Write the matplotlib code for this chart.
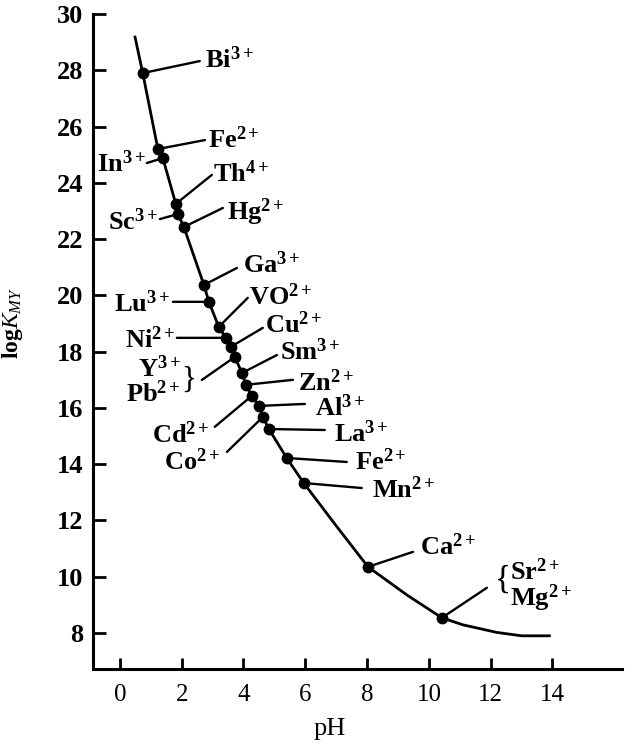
import matplotlib
matplotlib.use("Agg")
import matplotlib.pyplot as plt

plt.rcParams['font.family'] = ['Liberation Serif', 'DejaVu Serif']
plt.rcParams['mathtext.fontset'] = 'custom'
plt.rcParams['mathtext.rm'] = 'Liberation Serif:bold'
plt.rcParams['mathtext.bf'] = 'Liberation Serif:bold'
plt.rcParams['mathtext.it'] = 'Liberation Serif:italic'

# ---- data ----
ions = ['Bi$^{3+}$', 'Fe$^{2+}$', 'In$^{3+}$', 'Th$^{4+}$', 'Sc$^{3+}$', 'Hg$^{2+}$',
        'Ga$^{3+}$', 'Lu$^{3+}$', 'VO$^{2+}$', 'Ni$^{2+}$', 'Cu$^{2+}$',
        'Y$^{3+}$\nPb$^{2+}$', 'Sm$^{3+}$', 'Zn$^{2+}$', 'Cd$^{2+}$', 'Al$^{3+}$',
        'Co$^{2+}$', 'La$^{3+}$', 'Fe$^{2+}$', 'Mn$^{2+}$', 'Ca$^{2+}$',
        'Sr$^{2+}$\nMg$^{2+}$']
ion_ph = [0.74, 1.23, 1.39, 1.81, 1.88, 2.07, 2.72, 2.88, 3.20, 3.43, 3.59,
          3.72, 3.95, 4.08, 4.27, 4.50, 4.63, 4.82, 5.40, 5.95, 8.03, 10.42]
ion_logk = [27.90, 25.20, 24.88, 23.25, 22.89, 22.43, 20.37, 19.77, 18.88, 18.49, 18.17,
            17.81, 17.24, 16.82, 16.43, 16.07, 15.68, 15.25, 14.22, 13.33, 10.35, 8.54]

curve_ph = [0.49, 0.74, 1.23, 1.39, 1.81, 1.88, 2.07, 2.72, 2.88, 3.20, 3.43, 3.59,
            3.72, 3.95, 4.08, 4.27, 4.50, 4.63, 4.82, 5.40, 5.95, 7.0, 8.03, 9.29,
            10.42, 11.1, 12.2, 13.0, 13.9]
curve_logk = [29.18, 27.90, 25.20, 24.88, 23.25, 22.89, 22.43, 20.37, 19.77, 18.88, 18.49,
              18.17, 17.81, 17.24, 16.82, 16.43, 16.07, 15.68, 15.25, 14.22, 13.33, 11.81,
              10.35, 9.35, 8.54, 8.29, 8.02, 7.90, 7.90]

x_ticks = [0, 2, 4, 6, 8, 10, 12, 14]
y_ticks = [8, 10, 12, 14, 16, 18, 20, 22, 24, 26, 28, 30]

# ---- layout of leader lines / labels (pixels): dx, dy, side, gap, baseline drop ----
layout = [
    (57, 12, 'r', 5, 7), (47, 9, 'r', 3, 8), (-16, -5, 'l', 1, 9), (36, 29, 'r', 1, 7),
    (-18, -5, 'l', 2, 11), (39, 19, 'r', 4, 12), (33, 17, 'r', 6, 5), (-36, 0, 'l', 3, 10),
    (29, 29, 'r', 1, 7), (-49, 0, 'l', 2, 10), (32, 19, 'r', 2, 5), (-33, -23, 'l', 6, 0),
    (35, 18, 'r', 3, 5), (47, 5, 'r', 5, 11), (-37, -31, 'l', 5, 16), (46, 2, 'r', 10, 12),
    (-36, -35, 'l', 7, 18), (56, -1, 'r', 9, 12), (60, -4, 'r', 8, 8), (58, -5, 'r', 10, 10),
    (45, 15, 'r', 7, 3), (45, 30, 'r', 8, 0),
]

fig = plt.figure(figsize=(6.25, 7.5), dpi=100)
ax = fig.add_axes([93 / 625, 81 / 750, 529 / 625, 655 / 750])

ax.plot(curve_ph, curve_logk, color='black', lw=2.0, zorder=2)
ax.plot(ion_ph, ion_logk, 'o', color='black', ms=7.5, zorder=3)

FS = 19
BR = 22
for lab, x, y, (dx, dy, side, gap, base) in zip(ions, ion_ph, ion_logk, layout):
    ax.annotate('', xy=(x, y), xytext=(dx, dy), textcoords='offset pixels',
                arrowprops=dict(arrowstyle='-', lw=1.7, color='black',
                                shrinkA=0, shrinkB=0))
    lines = lab.split('\n')
    if len(lines) == 1:
        tx = dx + gap if side == 'r' else dx - gap
        ax.annotate(lab, xy=(x, y), xytext=(tx, dy - base), textcoords='offset pixels',
                    ha='left' if side == 'r' else 'right', va='baseline',
                    fontsize=FS, fontweight='bold')
    else:
        if side == 'l':
            ax.annotate('}', xy=(x, y), xytext=(dx - gap, dy), textcoords='offset pixels',
                        ha='right', va='center', fontsize=BR)
            ax.annotate(lines[0], xy=(x, y), xytext=(dx - gap - 15, dy + 3),
                        textcoords='offset pixels', ha='right', va='baseline',
                        fontsize=FS, fontweight='bold')
            ax.annotate(lines[1], xy=(x, y), xytext=(dx - gap - 15, dy - 22),
                        textcoords='offset pixels', ha='right', va='baseline',
                        fontsize=FS, fontweight='bold')
        else:
            ax.annotate('{', xy=(x, y), xytext=(dx + gap, dy + 8), textcoords='offset pixels',
                        ha='left', va='center', fontsize=BR + 2)
            ax.annotate(lines[0], xy=(x, y), xytext=(dx + gap + 15, dy + 8),
                        textcoords='offset pixels', ha='left', va='baseline',
                        fontsize=FS, fontweight='bold')
            ax.annotate(lines[1], xy=(x, y), xytext=(dx + gap + 15, dy - 18),
                        textcoords='offset pixels', ha='left', va='baseline',
                        fontsize=FS, fontweight='bold')

ax.set_xlim(-0.87, 16.25)
ax.set_ylim(6.72, 30)
ax.set_xticks(x_ticks)
ax.set_yticks(y_ticks)
ax.set_xticklabels([str(t) for t in x_ticks], fontsize=18)
ax.set_yticklabels([str(t) for t in y_ticks], fontsize=19, fontweight='bold')
ax.tick_params(axis='y', direction='in', length=9, width=2, pad=7)
ax.tick_params(axis='x', direction='in', length=8, width=2, pad=11)
for s in ['top', 'right']:
    ax.spines[s].set_visible(False)
for s in ['left', 'bottom']:
    ax.spines[s].set_linewidth(2.2)

ax.set_xlabel('pH', fontsize=19)
ax.xaxis.set_label_coords((330 - 93) / 529, (669 - 718) / 655)
ax.set_ylabel(r'$\mathrm{log}K_{MY}$', fontsize=17)
ax.yaxis.set_label_coords((25 - 93) / 529, (669 - 323) / 655)

fig.savefig('out.png', dpi=100)
